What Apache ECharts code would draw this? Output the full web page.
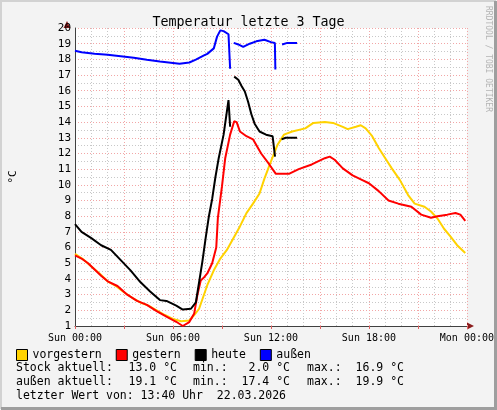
<!DOCTYPE html>
<html>
<head>
<meta charset="utf-8">
<script src="https://cdn.jsdelivr.net/npm/echarts@6/dist/echarts.min.js"></script>
<style>
  html, body { margin: 0; padding: 0; background: #f3f3f3; }
  #main { width: 497px; height: 410px; }
</style>
</head>
<body>
<div id="main"></div>
<script>
// Temperatur letzte 3 Tage - Stunden seit Sun 00:00
var tickLabels = ['Sun 00:00', 'Sun 06:00', 'Sun 12:00', 'Sun 18:00', 'Mon 00:00'];

var vorgesternTime = [0, 0.5, 1.0, 1.5, 2.0, 2.5, 3.0, 3.5, 4.0, 4.5, 5.0, 5.5, 6.0, 6.5, 7.0, 7.3, 7.6, 8.1, 8.5, 8.9, 9.3, 9.7, 10.1, 10.5, 10.9, 11.3, 11.6, 12.0, 12.4, 12.8, 13.3, 14.1, 14.6, 15.3, 15.8, 16.4, 16.7, 17.2, 17.5, 17.8, 18.2, 18.6, 19.0, 19.4, 19.9, 20.4, 20.8, 21.4, 21.8, 22.2, 22.6, 23.0, 23.4, 23.9];
var vorgestern = [5.6, 5.25, 4.8, 4.35, 3.85, 3.55, 3.15, 2.8, 2.5, 2.3, 2.0, 1.7, 1.45, 1.3, 1.35, 1.7, 2.1, 3.6, 4.55, 5.3, 5.85, 6.6, 7.35, 8.2, 8.8, 9.45, 10.4, 11.5, 12.55, 13.2, 13.4, 13.6, 13.95, 14.0, 13.95, 13.7, 13.55, 13.7, 13.8, 13.6, 13.1, 12.35, 11.7, 11.05, 10.3, 9.35, 8.8, 8.6, 8.3, 7.85, 7.2, 6.7, 6.15, 5.65];

var gesternTime = [0, 0.4, 0.8, 1.2, 1.6, 2.0, 2.6, 3.2, 3.8, 4.4, 5.0, 5.6, 6.2, 6.6, 7.0, 7.3, 7.5, 7.7, 7.9, 8.1, 8.4, 8.65, 8.75, 9.0, 9.2, 9.5, 9.75, 9.9, 10.1, 10.5, 10.9, 11.4, 11.9, 12.3, 13.1, 13.7, 14.5, 15.3, 15.6, 15.9, 16.4, 17.0, 17.6, 18.0, 18.6, 19.2, 19.8, 20.6, 21.2, 21.8, 22.2, 22.8, 23.3, 23.6, 23.9];
var gestern = [5.5, 5.3, 5.0, 4.6, 4.2, 3.85, 3.55, 3.0, 2.6, 2.35, 1.95, 1.6, 1.27, 1.0, 1.25, 1.8, 3.0, 3.9, 4.1, 4.35, 5.0, 6.0, 7.9, 9.9, 11.7, 13.2, 14.05, 14.0, 13.4, 13.1, 12.9, 12.0, 11.3, 10.7, 10.7, 11.0, 11.3, 11.7, 11.8, 11.6, 11.05, 10.6, 10.3, 10.1, 9.6, 9.0, 8.8, 8.6, 8.1, 7.9, 8.0, 8.1, 8.2, 8.1, 7.7];

var heuteTime = [0, 0.4, 1.0, 1.6, 2.2, 2.8, 3.4, 4.0, 4.6, 5.2, 5.6, 6.2, 6.6, 7.1, 7.4, 7.6, 7.8, 8.0, 8.2, 8.4, 8.6, 8.8, 9.1, 9.4, 9.5, 9.6, 9.75, 10.0, 10.2, 10.4, 10.6, 10.8, 11.0, 11.3, 11.7, 12.1, 12.25, 12.45, 12.65, 12.9, 13.6];
var heute = [7.5, 7.0, 6.6, 6.15, 5.85, 5.2, 4.55, 3.8, 3.2, 2.65, 2.6, 2.3, 2.05, 2.1, 2.5, 3.8, 5.1, 6.6, 8.0, 9.1, 10.5, 11.7, 13.2, 15.4, 13.7, null, 16.9, 16.7, 16.3, 15.95, 15.3, 14.5, 13.9, 13.4, 13.2, 13.1, 11.8, null, 12.9, 13.0, 13.0];

var aussenTime = [0, 0.4, 1.2, 2.0, 2.8, 3.6, 4.4, 5.2, 6.0, 6.4, 7.0, 7.4, 7.9, 8.1, 8.5, 8.7, 8.9, 9.1, 9.4, 9.5, 9.6, 9.72, 10.0, 10.3, 10.7, 11.1, 11.6, 12.0, 12.24, 12.27, 12.45, 12.68, 13.0, 13.6];
var aussen = [18.55, 18.45, 18.36, 18.3, 18.2, 18.1, 17.98, 17.87, 17.77, 17.72, 17.8, 17.98, 18.25, 18.35, 18.7, 19.45, 19.85, 19.8, 19.6, 17.4, null, 19.05, 18.95, 18.8, 19.0, 19.15, 19.25, 19.1, 19.05, 17.35, null, 18.95, 19.05, 19.05];

var mono = 'DejaVu Sans Mono';

function pairs(times, values) {
    return times.map(function (t, i) {
        return [t, values[i] === null ? '-' : values[i]];
    });
}

function drawChart() {
    var chartDom = document.getElementById('main');
    var myChart = echarts.init(chartDom);
    var option;

    var lineSeries = function (name, color, times, values) {
        return {
            name: name,
            type: 'line',
            showSymbol: false,
            connectNulls: false,
            lineStyle: { color: color, width: 2 },
            itemStyle: { color: color },
            data: pairs(times, values)
        };
    };

    var txt = function (x, y, text, align) {
        return { type: 'text', x: x, y: y, style: { text: text, font: '11.5px "DejaVu Sans Mono"', fill: '#000', align: align || 'left' } };
    };

    option = {
        backgroundColor: '#f3f3f3',
        animation: false,
        title: {
            text: 'Temperatur letzte 3 Tage',
            left: 'center',
            top: 11,
            textStyle: { fontFamily: mono, fontSize: 13.3, fontWeight: 'normal', color: '#000' }
        },
        legend: {
            left: 16,
            top: 349,
            padding: 0,
            icon: 'rect',
            itemWidth: 11,
            itemHeight: 11,
            itemGap: 14,
            itemStyle: { borderColor: '#000', borderWidth: 1 },
            textStyle: { fontFamily: mono, fontSize: 11.5, color: '#000' },
            data: ['vorgestern', 'gestern', 'heute', 'außen']
        },
        grid: {
            left: 67,
            top: 28,
            width: 400,
            height: 298,
            show: true,
            backgroundColor: '#ffffff',
            borderWidth: 0
        },
        xAxis: {
            type: 'value',
            min: 0,
            max: 24,
            interval: 3,
            axisLine: { show: true, onZero: false, lineStyle: { color: '#404040', width: 1 } },
            axisTick: { show: true, length: 3, lineStyle: { color: '#e06060' } },
            axisLabel: {
                fontFamily: mono,
                fontSize: 10,
                color: '#000',
                margin: 7,
                formatter: function (v) {
                    return v % 6 === 0 ? tickLabels[v / 6] : '';
                }
            },
            splitLine: { show: true, lineStyle: { color: '#f2a6a6', type: [1, 2] } },
            minorTick: { show: false, splitNumber: 3 },
            minorSplitLine: { show: true, lineStyle: { color: '#c8c8c8', type: [1, 2] } }
        },
        yAxis: {
            type: 'value',
            min: 1,
            max: 20,
            interval: 1,
            name: '°C',
            nameLocation: 'middle',
            nameRotate: 90,
            nameGap: 56,
            nameTextStyle: { fontFamily: mono, fontSize: 11, color: '#000' },
            axisLine: { show: true, lineStyle: { color: '#404040', width: 1 } },
            axisTick: { show: false },
            axisLabel: { fontFamily: mono, fontSize: 11, color: '#000', margin: 4 },
            splitLine: { show: true, lineStyle: { color: '#f2a6a6', type: [1, 2] } },
            minorTick: { show: false, splitNumber: 2 },
            minorSplitLine: { show: true, lineStyle: { color: '#c8c8c8', type: [1, 2] } }
        },
        graphic: [
            // 3D Rahmen
            { type: 'polyline', shape: { points: [[1, 409], [1, 1], [496, 1]] }, style: { stroke: '#d2d2d2', lineWidth: 2, fill: null } },
            { type: 'polyline', shape: { points: [[1, 408.5], [495.5, 408.5], [495.5, 1]] }, style: { stroke: '#9e9e9e', lineWidth: 3, fill: null } },
            // Achsenpfeile
            { type: 'polygon', shape: { points: [[467, 322.5], [474, 326], [467, 329.5]] }, style: { fill: '#8b1c1c' } },
            { type: 'polygon', shape: { points: [[63.5, 28], [67, 21], [70.5, 28]] }, style: { fill: '#8b1c1c' } },
            {
                type: 'text',
                x: 492,
                y: 6,
                rotation: -Math.PI / 2,
                style: { text: 'RRDTOOL / TOBI OETIKER', font: '8px "DejaVu Sans Mono"', fill: '#b4b4b4' }
            },
            // GPRINT Zeilen
            txt(16, 362, 'Stock aktuell:'),
            txt(177, 362, '13.0 °C', 'right'),
            txt(193, 362, 'min.:'),
            txt(290, 362, '2.0 °C', 'right'),
            txt(307, 362, 'max.:'),
            txt(404, 362, '16.9 °C', 'right'),
            txt(16, 376, 'außen aktuell:'),
            txt(177, 376, '19.1 °C', 'right'),
            txt(193, 376, 'min.:'),
            txt(290, 376, '17.4 °C', 'right'),
            txt(307, 376, 'max.:'),
            txt(404, 376, '19.9 °C', 'right'),
            txt(16, 390, 'letzter Wert von: 13:40 Uhr  22.03.2026')
        ],
        series: [
            lineSeries('vorgestern', '#ffd200', vorgesternTime, vorgestern),
            lineSeries('gestern', '#ff0000', gesternTime, gestern),
            lineSeries('heute', '#000000', heuteTime, heute),
            lineSeries('außen', '#0000ff', aussenTime, aussen)
        ]
    };

    option && myChart.setOption(option);
}

drawChart();
</script>
</body>
</html>
